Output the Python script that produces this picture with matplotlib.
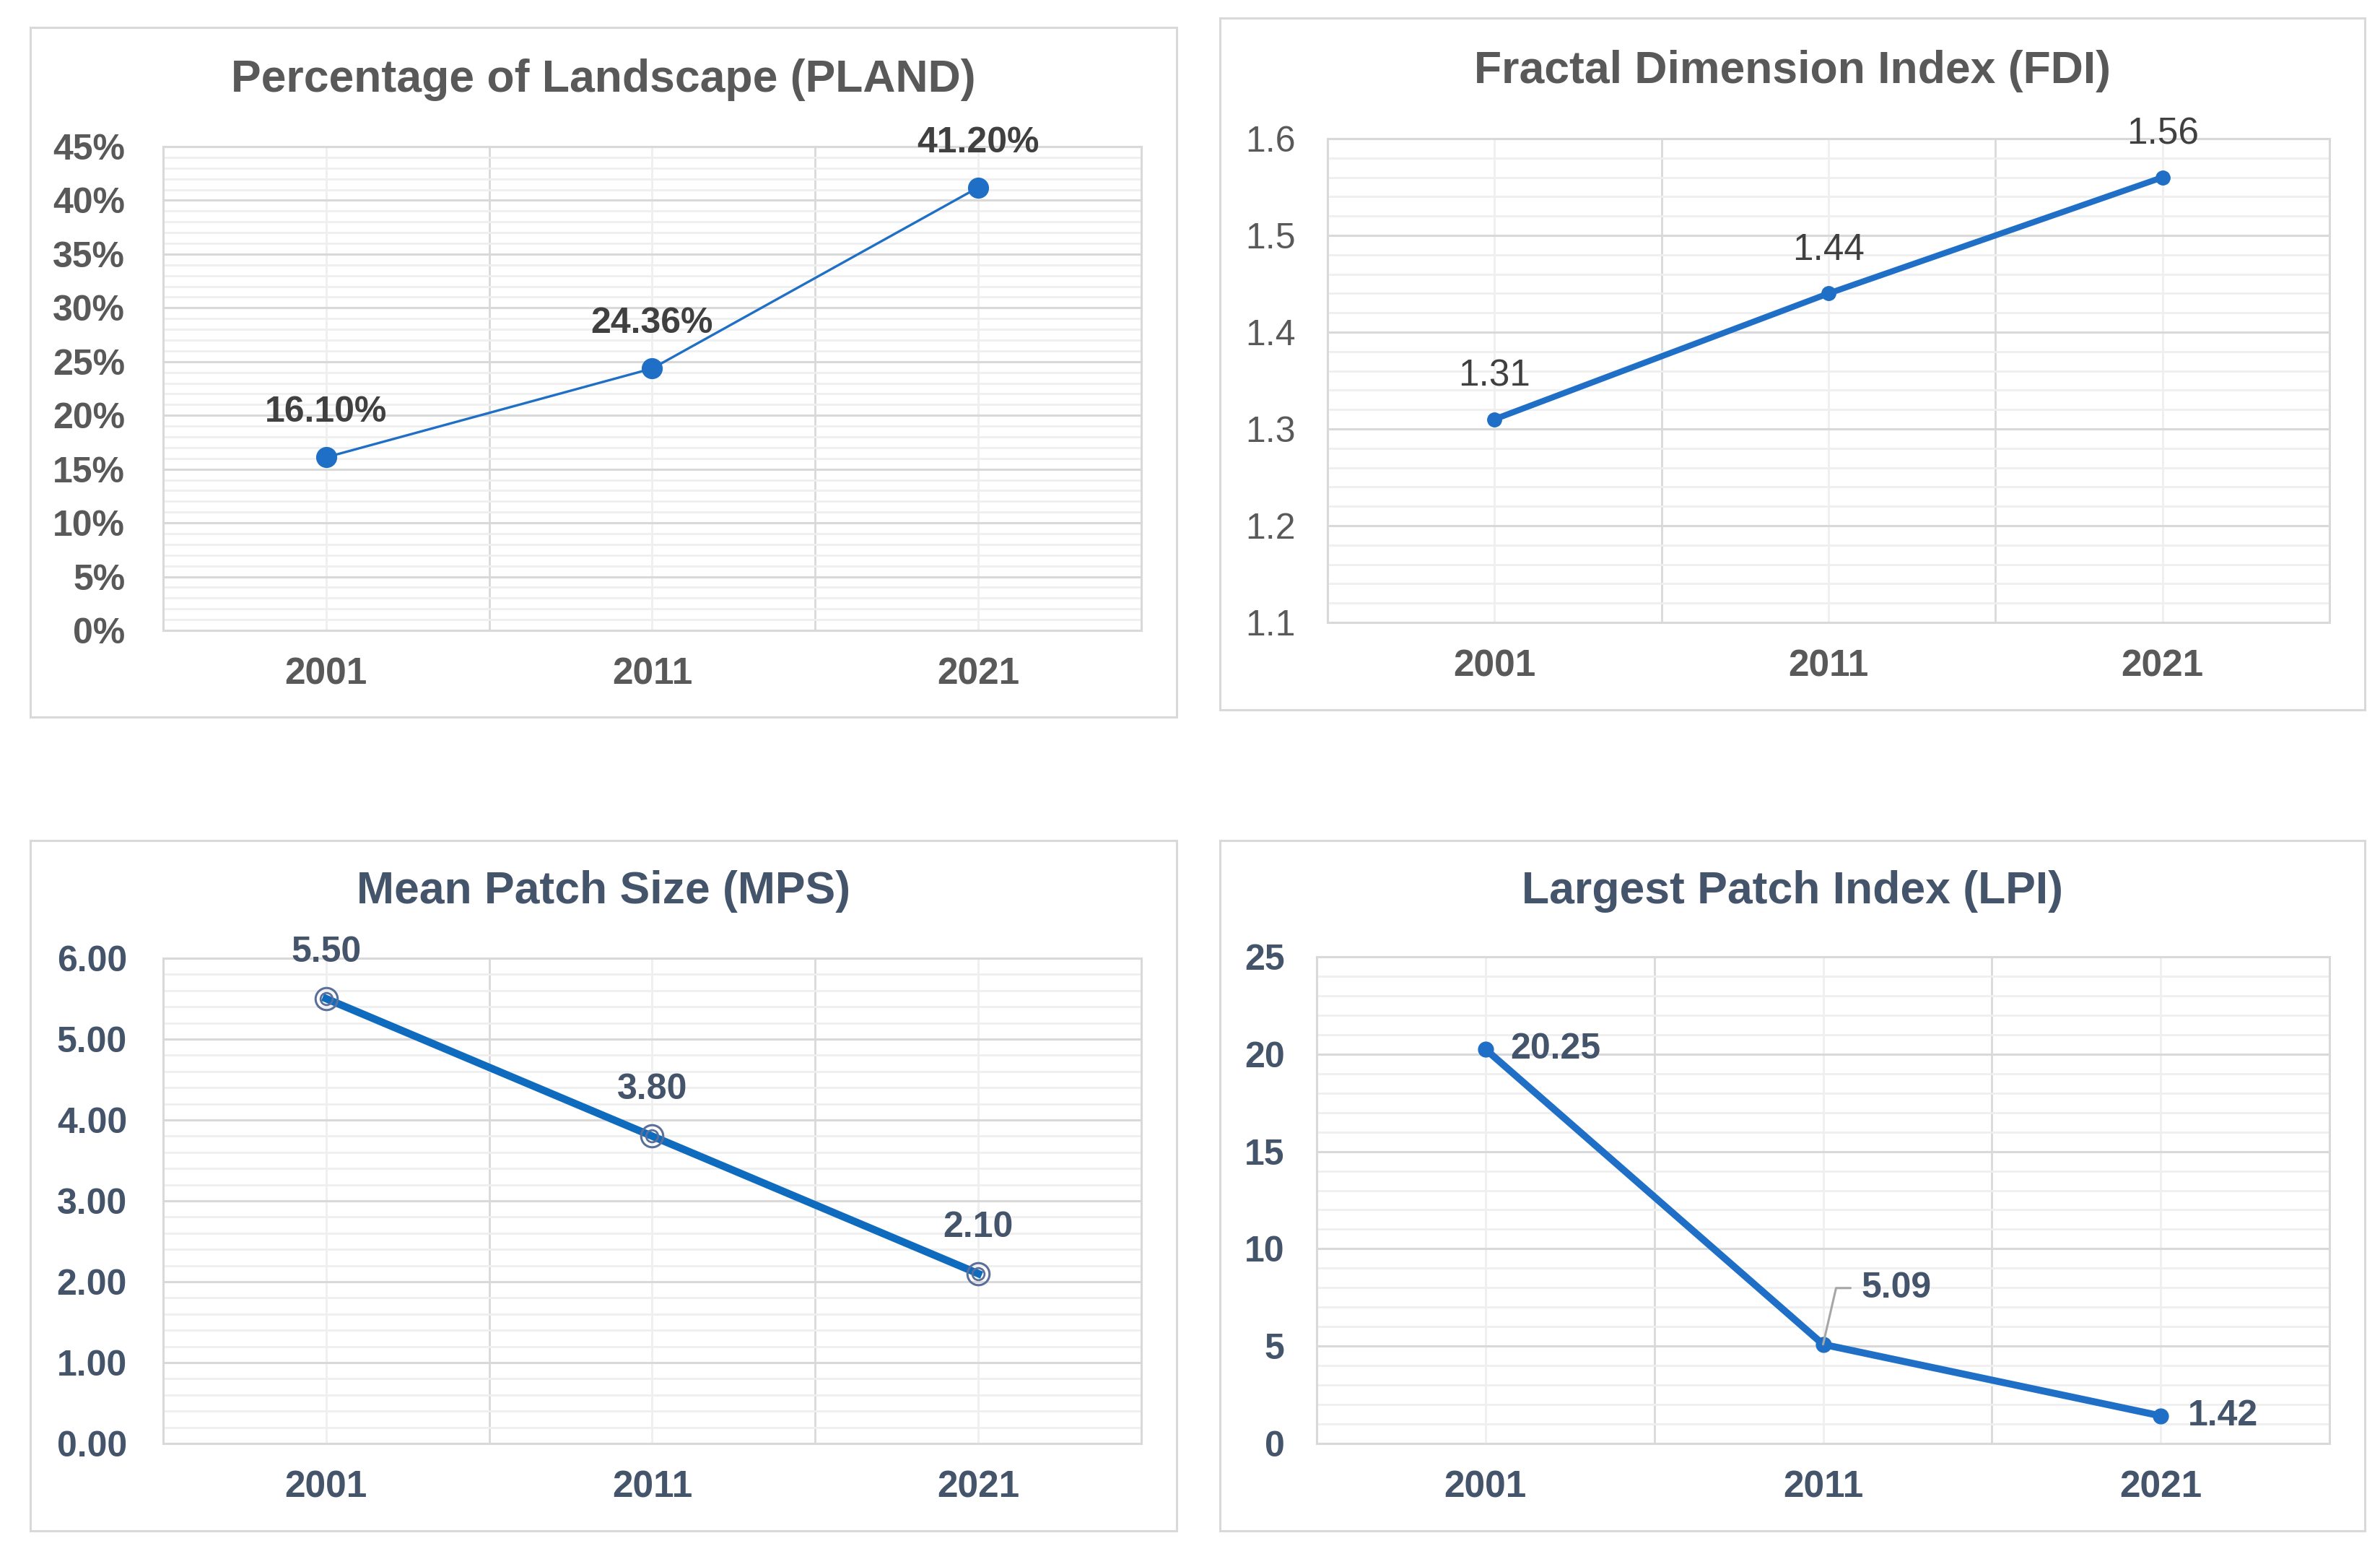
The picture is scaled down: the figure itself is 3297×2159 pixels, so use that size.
import matplotlib
matplotlib.use("Agg")
import matplotlib.pyplot as plt
from matplotlib.patches import Rectangle
from matplotlib.ticker import MultipleLocator, FixedLocator, FuncFormatter

plt.rcParams['font.family'] = ['Liberation Sans', 'DejaVu Sans']

# ---------------- data ----------------
years = ["2001", "2011", "2021"]
pland = [16.10, 24.36, 41.20]
fdi = [1.31, 1.44, 1.56]
mps = [5.50, 3.80, 2.10]
lpi = [20.25, 5.09, 1.42]

W, H = 3297, 2159
fig = plt.figure(figsize=(W / 100, H / 100), dpi=100)
fig.patch.set_facecolor("white")

LINE = "#1F6FC6"
MAJ = "#D9D9D9"
MIN = "#EFEFEF"

TITLE_FS = 45
YT_FS = 36
XT_FS = 37
DL_FS = 36


def fx(x):
    return x / W


def fy(y):
    return 1 - y / H


def box(x0, y0, x1, y1):
    fig.patches.append(Rectangle((fx(x0), fy(y1)), fx(x1) - fx(x0), fy(y0) - fy(y1),
                                 transform=fig.transFigure, fill=False,
                                 edgecolor="#D9D9D9", linewidth=2.2, zorder=0))


def make_ax(x0, y0, x1, y1):
    return fig.add_axes([fx(x0), fy(y1), fx(x1) - fx(x0), fy(y0) - fy(y1)])


def style(ax, ymin, ymax, major, minor, fmt, tcolor, ybold, xbold, ypad):
    ax.set_xlim(-0.5, 2.5)
    ax.set_ylim(ymin, ymax)
    ax.set_xticks(range(len(years)))
    ax.set_xticklabels(years)
    ax.xaxis.set_minor_locator(FixedLocator([-0.5, 0.5, 1.5, 2.5]))
    ax.yaxis.set_major_locator(MultipleLocator(major))
    ax.yaxis.set_minor_locator(MultipleLocator(minor))
    ax.yaxis.set_major_formatter(FuncFormatter(fmt))
    ax.grid(which="major", axis="x", color=MIN, linewidth=2.0, zorder=0)
    ax.grid(which="minor", axis="x", color=MAJ, linewidth=2.0, zorder=0)
    ax.grid(which="minor", axis="y", color=MIN, linewidth=2.0, zorder=0)
    ax.grid(which="major", axis="y", color=MAJ, linewidth=2.2, zorder=0)
    ax.set_axisbelow(True)
    for s in ax.spines.values():
        s.set_color(MAJ)
        s.set_linewidth(2.2)
    ax.tick_params(which="both", length=0)
    ax.tick_params(axis="y", pad=ypad, labelsize=YT_FS, labelcolor=tcolor)
    ax.tick_params(axis="x", pad=26, labelsize=XT_FS, labelcolor=tcolor)
    for lab in ax.get_yticklabels():
        lab.set_fontweight("bold" if ybold else "normal")
    for lab in ax.get_xticklabels():
        lab.set_fontweight("bold" if xbold else "normal")


x = list(range(len(years)))

# ---------------- PLAND ----------------
box(42, 38, 1630, 993)
ax1 = make_ax(226, 203, 1581, 873)
style(ax1, 0, 45, 5, 1, lambda v, p: f"{v:.0f}%", "#595959", True, True, 38)
ax1.plot(x, pland, color=LINE, linewidth=2.4, marker="o", markersize=20,
         markerfacecolor=LINE, markeredgecolor=LINE, zorder=3)
for xi, v in zip(x, pland):
    ax1.annotate(f"{v:.2f}%", (xi, v), xytext=(0, 62), textcoords="offset pixels",
                 ha="center", va="center", fontsize=DL_FS, fontweight="bold",
                 color="#404040", zorder=4)
fig.text(fx(836), fy(110), "Percentage of Landscape (PLAND)", ha="center", va="center",
         fontsize=TITLE_FS, fontweight="bold", color="#595959")

# ---------------- FDI ----------------
box(1690, 25, 3276, 983)
ax2 = make_ax(1839, 192, 3227, 862)
style(ax2, 1.1, 1.6, 0.1, 0.02, lambda v, p: f"{v:.1f}", "#595959", False, True, 32)
ax2.plot(x, fdi, color=LINE, linewidth=6, marker="o", markersize=14,
         markerfacecolor=LINE, markeredgecolor=LINE, zorder=3)
for xi, v in zip(x, fdi):
    ax2.annotate(f"{v:.2f}", (xi, v), xytext=(0, 60), textcoords="offset pixels",
                 ha="center", va="center", fontsize=DL_FS + 1, color="#404040", zorder=4)
fig.text(fx(2483), fy(99), "Fractal Dimension Index (FDI)", ha="center", va="center",
         fontsize=TITLE_FS, fontweight="bold", color="#595959")

# ---------------- MPS ----------------
TXT = "#44546A"
box(42, 1164, 1630, 2120)
ax3 = make_ax(226, 1327, 1581, 1999)
style(ax3, 0, 6, 1, 0.2, lambda v, p: f"{v:.2f}", TXT, True, True, 36)
ax3.plot(x, mps, color="#0E6BBE", linewidth=7.5, zorder=3)
ax3.plot(x, mps, linestyle="none", marker="o", markersize=22, markerfacecolor="none",
         markeredgecolor="#5A6F99", markeredgewidth=2.2, zorder=4)
ax3.plot(x, mps, linestyle="none", marker="o", markersize=12, markerfacecolor="none",
         markeredgecolor="#5A6F99", markeredgewidth=2.0, zorder=4)
for xi, v in zip(x, mps):
    ax3.annotate(f"{v:.2f}", (xi, v), xytext=(0, 64), textcoords="offset pixels",
                 ha="center", va="center", fontsize=DL_FS, fontweight="bold",
                 color=TXT, zorder=5)
fig.text(fx(836), fy(1235), "Mean Patch Size (MPS)", ha="center", va="center",
         fontsize=TITLE_FS, fontweight="bold", color=TXT)

# ---------------- LPI ----------------
box(1690, 1164, 3276, 2120)
ax4 = make_ax(1824, 1325, 3227, 1999)
style(ax4, 0, 25, 5, 1, lambda v, p: f"{v:.0f}", TXT, True, True, 32)
ax4.plot(x, lpi, color=LINE, linewidth=7, marker="o", markersize=15,
         markerfacecolor=LINE, markeredgecolor=LINE, zorder=3)
ax4.annotate(f"{lpi[0]:.2f}", (x[0], lpi[0]), xytext=(34, 0), textcoords="offset pixels",
             ha="left", va="center", fontsize=DL_FS, fontweight="bold", color=TXT, zorder=5)
ax4.annotate(f"{lpi[2]:.2f}", (x[2], lpi[2]), xytext=(38, 0), textcoords="offset pixels",
             ha="left", va="center", fontsize=DL_FS, fontweight="bold", color=TXT, zorder=5)
# leader line for the middle label
ax4.annotate("", (x[1], lpi[1]), xytext=(38, 78), textcoords="offset pixels",
             arrowprops=dict(arrowstyle="-", color="#A6A6A6", linewidth=2.2,
                             shrinkA=0, shrinkB=0,
                             connectionstyle="angle,angleA=0,angleB=77,rad=0"), zorder=4)
ax4.annotate(f"{lpi[1]:.2f}", (x[1], lpi[1]), xytext=(53, 78), textcoords="offset pixels",
             ha="left", va="center", fontsize=DL_FS, fontweight="bold", color=TXT, zorder=5)
fig.text(fx(2483), fy(1235), "Largest Patch Index (LPI)", ha="center", va="center",
         fontsize=TITLE_FS, fontweight="bold", color=TXT)

fig.savefig("out.png", dpi=100, facecolor="white")
